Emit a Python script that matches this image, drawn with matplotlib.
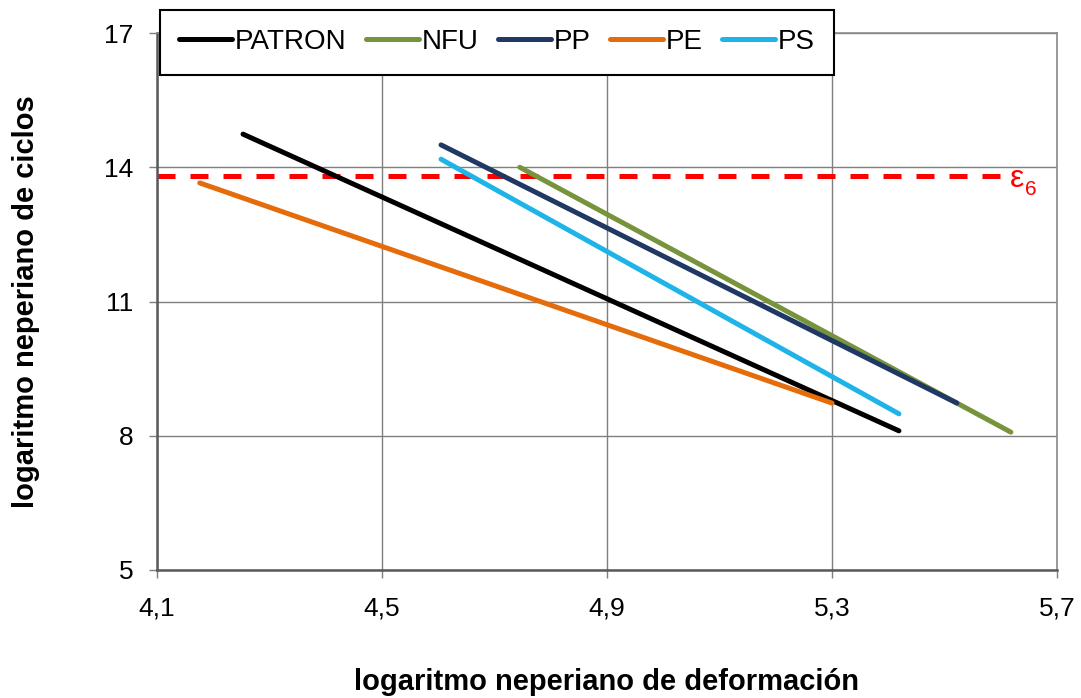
import numpy as np
import matplotlib
matplotlib.use('Agg')
import matplotlib.pyplot as plt

plt.rcParams['font.family'] = ['Liberation Sans', 'DejaVu Sans']

# ---------- data (ln deformation, ln cycles) ----------
series_names = ['PATRON', 'NFU', 'PP', 'PE', 'PS']
series_colors = ['#000000', '#77933c', '#1f3864', '#e46c0a', '#1fb4e8']
x_start = [4.253, 4.745, 4.605, 4.176, 4.605]
y_start = [14.74, 14.00, 14.50, 13.65, 14.18]
x_end = [5.419, 5.618, 5.522, 5.300, 5.419]
y_end = [8.11, 8.08, 8.73, 8.73, 8.49]

eps6_level = 13.80
eps6_x = [4.10, 5.60]

x_ticks = [4.1, 4.5, 4.9, 5.3, 5.7]
x_labels = ['4,1', '4,5', '4,9', '5,3', '5,7']
y_ticks = [5, 8, 11, 14, 17]

# ---------- plot ----------
fig = plt.figure(figsize=(10.81, 6.98), dpi=100)
ax = fig.add_axes([0.1452, 0.1834, 0.8326, 0.7693])

ax.grid(True, color='#7f7f7f', linewidth=1.0)
ax.set_axisbelow(True)

handles = []
for name, col, x0, y0, x1, y1 in zip(series_names, series_colors,
                                     x_start, y_start, x_end, y_end):
    h, = ax.plot([x0, x1], [y0, y1], color=col, linewidth=3.6,
                 solid_capstyle='round', label=name)
    handles.append(h)

ax.plot(eps6_x, [eps6_level, eps6_level], color='#ff0000', linewidth=3.6,
        dashes=(3.6, 3.0), zorder=1.5)
ax.text(5.616, 13.56, 'ε', color='#ff0000', fontsize=23,
        ha='left', va='baseline')
ax.text(5.643, 13.38, '6', color='#ff0000', fontsize=15,
        ha='left', va='baseline')

ax.set_xlim(4.1, 5.7)
ax.set_ylim(5, 17)
ax.set_xticks(x_ticks)
ax.set_xticklabels(x_labels)
ax.set_yticks(y_ticks)
ax.tick_params(axis='both', labelsize=19, labelcolor='#000000',
               color='#7f7f7f', length=6, width=1, direction='out')
ax.tick_params(axis='x', pad=13)
ax.tick_params(axis='y', pad=11)

for side in ['left', 'bottom']:
    ax.spines[side].set_color('#595959')
    ax.spines[side].set_linewidth(1.8)
for side in ['top', 'right']:
    ax.spines[side].set_color('#8c8c8c')
    ax.spines[side].set_linewidth(1.2)

ax.set_xlabel('logaritmo neperiano de deformación', fontsize=21,
              fontweight='bold', labelpad=34)
ax.set_ylabel('logaritmo neperiano de ciclos', fontsize=21,
              fontweight='bold', labelpad=46)

leg = ax.legend(handles=handles, loc='upper left', ncol=5,
                bbox_to_anchor=(0.148, 0.986), bbox_transform=fig.transFigure,
                fontsize=20, frameon=True, fancybox=False, handlelength=1.9,
                handletextpad=0.1, columnspacing=0.7, borderpad=0.7,
                borderaxespad=0)
leg.get_frame().set_edgecolor('#000000')
leg.get_frame().set_linewidth(1.5)
leg.get_frame().set_alpha(1)

fig.savefig('out.png', dpi=100)
